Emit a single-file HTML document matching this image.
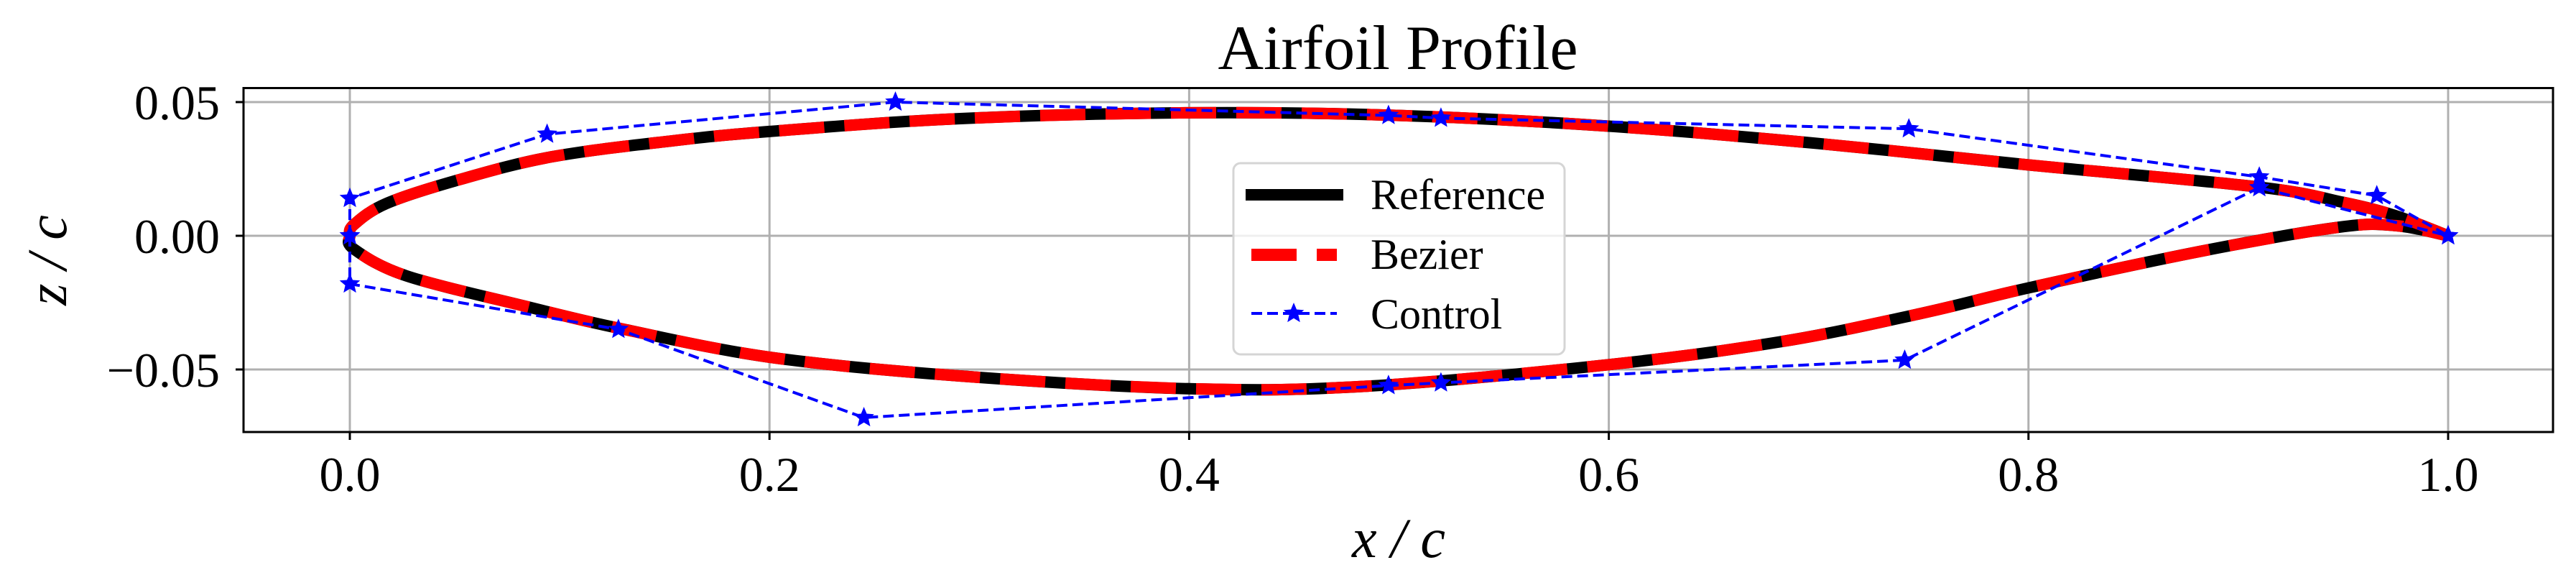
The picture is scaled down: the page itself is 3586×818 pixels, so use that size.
<!DOCTYPE html>
<html><head><meta charset="utf-8"><style>
html,body{margin:0;padding:0;background:#fff;}
svg{display:block;}
text{font-family:"Liberation Serif",serif;fill:#000;}
</style></head><body>
<svg id="s" width="3586" height="818" viewBox="0 0 3586 818" xmlns="http://www.w3.org/2000/svg">
<rect width="3586" height="818" fill="#fff"/>
<g id="grid"></g>
<g id="curves"></g>
<g id="ctrl"></g>
<rect x="339" y="122.5" width="3215" height="478.5" fill="none" stroke="#000" stroke-width="3"/>
<g id="ticks"></g>
<text x="1946" y="96" font-size="88" text-anchor="middle">Airfoil Profile</text>
<text x="1947" y="775" font-size="78" font-style="italic" text-anchor="middle">x / c</text>
<text transform="translate(92,362) rotate(-90)" font-size="78" font-style="italic" text-anchor="middle">z / c</text>
<g>
<rect x="1717" y="227" width="461" height="266" rx="10" fill="#fff" fill-opacity="0.8" stroke="#d5d5d5" stroke-width="3"/>
<line x1="1734" y1="271" x2="1870" y2="271" stroke="#000" stroke-width="16"/>
<rect x="1742" y="346" width="63" height="17" fill="#f00"/>
<rect x="1833" y="346" width="28" height="17" fill="#f00"/>
<line x1="1742" y1="436" x2="1861" y2="436" stroke="#00f" stroke-width="4" stroke-dasharray="15 7"/>
<polygon id="lstar" fill="#00f"/>
<text x="1908" y="291" font-size="60">Reference</text>
<text x="1908" y="374" font-size="60">Bezier</text>
<text x="1908" y="457" font-size="60">Control</text>
</g>
</svg>
<script>
var NS="http://www.w3.org/2000/svg";
function X(x){return 487+x*2921;}
function Y(z){return 328-z*3720;}
function el(p,t,a){var e=document.createElementNS(NS,t);for(var k in a)e.setAttribute(k,a[k]);document.getElementById(p).appendChild(e);return e;}
var xs=[0,0.2,0.4,0.6,0.8,1.0],zs=[0.05,0,-0.05];
xs.forEach(function(x){el("grid","line",{x1:X(x),y1:122.5,x2:X(x),y2:601,stroke:"#b0b0b0","stroke-width":3});
 el("ticks","line",{x1:X(x),y1:601,x2:X(x),y2:612,stroke:"#000","stroke-width":3});
 var t=el("ticks","text",{x:X(x),y:683,"font-size":68,"text-anchor":"middle"});t.textContent=x.toFixed(1);});
zs.forEach(function(z){el("grid","line",{x1:339,y1:Y(z),x2:3554,y2:Y(z),stroke:"#b0b0b0","stroke-width":3});
 el("ticks","line",{x1:328,y1:Y(z),x2:339,y2:Y(z),stroke:"#000","stroke-width":3});
 var t=el("ticks","text",{x:306,y:Y(z)+24,"font-size":68,"text-anchor":"end"});t.textContent=(z<0?"\u22120.05":z==0?"0.00":"0.05");});
var up=[[0,0],[0,0.014],[0.094,0.038],[0.26,0.05],[0.495,0.045],[0.52,0.044],[0.743,0.040],[0.91,0.022],[0.966,0.015],[1,0]];
var lo=[[0,0],[0,-0.018],[0.128,-0.035],[0.245,-0.068],[0.495,-0.056],[0.52,-0.055],[0.741,-0.0465],[0.91,0.018],[1,0]];
var cu=[[0,0],[0.002,0.0042],[0.0175,0.0121],[0.0514,0.0208],[0.0959,0.0295],[0.1537,0.0355],[0.2,0.039],[0.29,0.0438],[0.4,0.046],[0.5,0.045],[0.6,0.041],[0.7,0.0345],[0.8,0.0265],[0.91,0.0182],[0.95,0.0125],[0.975,0.0075],[1,0]];
var cl=[[0.002,-0.005],[0.027,-0.015],[0.085,-0.0266],[0.129,-0.0347],[0.2,-0.0454],[0.29,-0.0524],[0.4,-0.0572],[0.484,-0.0563],[0.6,-0.0482],[0.683,-0.0395],[0.749,-0.029],[0.8,-0.0195],[0.882,-0.0058],[0.948,0.0032],[0.975,0.0038],[1,0]];
var P=cu.slice().reverse().concat(cl).map(function(p){return [X(p[0]),Y(p[1])];});
var d="M"+P[0][0]+" "+P[0][1];
for(var i=0;i<P.length-1;i++){var p0=P[Math.max(i-1,0)],p1=P[i],p2=P[i+1],p3=P[Math.min(i+2,P.length-1)];
 var c1=[p1[0]+(p2[0]-p0[0])/6,p1[1]+(p2[1]-p0[1])/6],c2=[p2[0]-(p3[0]-p1[0])/6,p2[1]-(p3[1]-p1[1])/6];
 d+="C"+c1[0].toFixed(1)+" "+c1[1].toFixed(1)+" "+c2[0].toFixed(1)+" "+c2[1].toFixed(1)+" "+p2[0].toFixed(1)+" "+p2[1].toFixed(1);}
el("curves","path",{d:d,fill:"none",stroke:"#000","stroke-width":16});
el("curves","path",{d:d,fill:"none",stroke:"#f00","stroke-width":16,"stroke-dasharray":"63 28"});
function star(cx,cy,r){var s="";for(var i=0;i<10;i++){var a=-Math.PI/2+i*Math.PI/5,rr=i%2?r*0.45:r;s+=(cx+rr*Math.cos(a)).toFixed(1)+","+(cy+rr*Math.sin(a)).toFixed(1)+" ";}return s;}
[up,lo].forEach(function(P){var pts=P.map(function(p){return X(p[0])+","+Y(p[1]);}).join(" ");
 el("ctrl","polyline",{points:pts,fill:"none",stroke:"#00f","stroke-width":4,"stroke-dasharray":"15 7"});
 P.forEach(function(p){el("ctrl","polygon",{points:star(X(p[0]),Y(p[1]),15),fill:"#00f"});});});
document.getElementById("lstar").setAttribute("points",star(1801,436,15));
</script>
</body></html>
